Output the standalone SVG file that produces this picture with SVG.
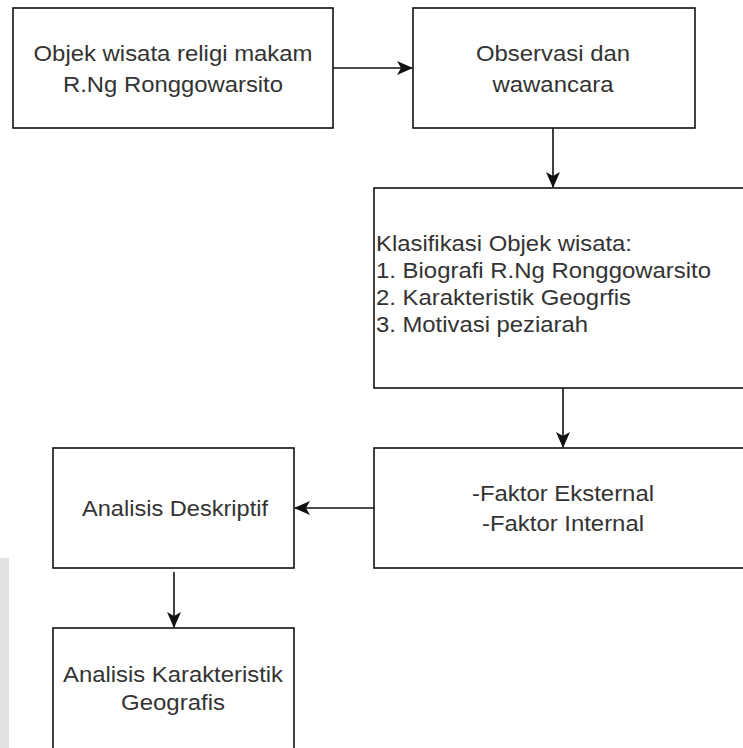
<svg xmlns="http://www.w3.org/2000/svg" width="743" height="748" viewBox="0 0 743 748">
  <style>
    .box { fill: #ffffff; stroke: #111111; stroke-width: 1.6; }
    .lbl { font-family: "Liberation Sans", Arial, sans-serif; font-size: 22px; fill: #333333; }
    .edge { fill: none; stroke: #111111; stroke-width: 1.6; }
  </style>
  <defs>
    <marker id="arrow" markerUnits="userSpaceOnUse" markerWidth="16" markerHeight="14" viewBox="0 0 16 14" refX="15" refY="7" orient="auto">
      <path d="M0,0 L16,7 L0,14 L4,7 Z" fill="#111111"/>
    </marker>
  </defs>
  <rect x="0" y="0" width="743" height="748" fill="#ffffff"/>
  <rect x="0" y="558" width="9" height="190" fill="#e2e2e2"/>

  <g id="node-objek">
    <rect class="box" x="13" y="8" width="320" height="120"/>
    <text class="lbl" x="33.5" y="61" textLength="279" lengthAdjust="spacingAndGlyphs">Objek wisata religi makam</text>
    <text class="lbl" x="63" y="92" textLength="220" lengthAdjust="spacingAndGlyphs">R.Ng Ronggowarsito</text>
  </g>

  <g id="node-observasi">
    <rect class="box" x="413" y="8" width="282" height="120"/>
    <text class="lbl" x="476" y="61" textLength="154" lengthAdjust="spacingAndGlyphs">Observasi dan</text>
    <text class="lbl" x="492.5" y="92" textLength="121" lengthAdjust="spacingAndGlyphs">wawancara</text>
  </g>

  <g id="node-klasifikasi">
    <rect class="box" x="374" y="188" width="390" height="200"/>
    <text class="lbl" x="376" y="251" textLength="256" lengthAdjust="spacingAndGlyphs">Klasifikasi Objek wisata:</text>
    <text class="lbl" x="376" y="278" textLength="335" lengthAdjust="spacingAndGlyphs">1. Biografi R.Ng Ronggowarsito</text>
    <text class="lbl" x="376" y="305" textLength="255" lengthAdjust="spacingAndGlyphs">2. Karakteristik Geogrfis</text>
    <text class="lbl" x="376" y="332" textLength="212" lengthAdjust="spacingAndGlyphs">3. Motivasi peziarah</text>
  </g>

  <g id="node-faktor">
    <rect class="box" x="374" y="448" width="390" height="120"/>
    <text class="lbl" x="472" y="501" textLength="182" lengthAdjust="spacingAndGlyphs">-Faktor Eksternal</text>
    <text class="lbl" x="482" y="531" textLength="162" lengthAdjust="spacingAndGlyphs">-Faktor Internal</text>
  </g>

  <g id="node-deskriptif">
    <rect class="box" x="53" y="448" width="241" height="120"/>
    <text class="lbl" x="82" y="516" textLength="186" lengthAdjust="spacingAndGlyphs">Analisis Deskriptif</text>
  </g>

  <g id="node-geografis">
    <rect class="box" x="53" y="628" width="241" height="124"/>
    <text class="lbl" x="63" y="682" textLength="220" lengthAdjust="spacingAndGlyphs">Analisis Karakteristik</text>
    <text class="lbl" x="121" y="710" textLength="104" lengthAdjust="spacingAndGlyphs">Geografis</text>
  </g>

  <g id="connectors">
    <path class="edge" d="M333,68 L412,68" marker-end="url(#arrow)"/>
    <path class="edge" d="M553,128 L553,187" marker-end="url(#arrow)"/>
    <path class="edge" d="M563,388 L563,447" marker-end="url(#arrow)"/>
    <path class="edge" d="M374,508 L295,508" marker-end="url(#arrow)"/>
    <path class="edge" d="M174,572 L174,627" marker-end="url(#arrow)"/>
  </g>
</svg>
